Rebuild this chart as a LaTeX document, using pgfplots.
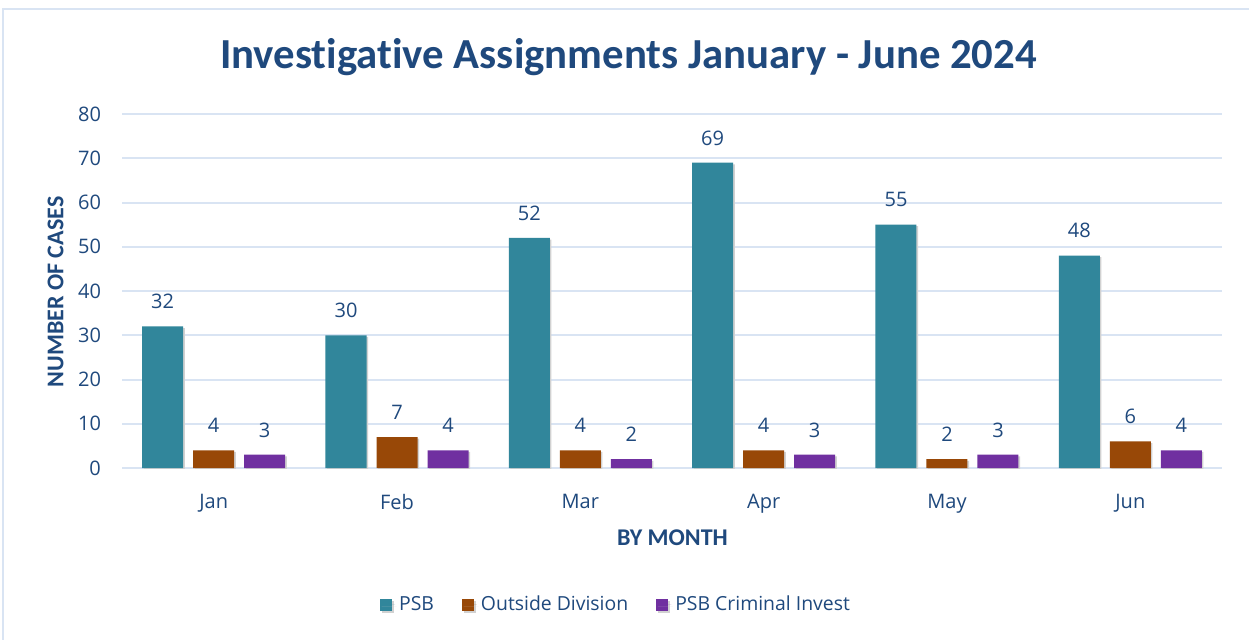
\documentclass[border=0pt]{standalone}
\usepackage{fontspec}
\setmainfont{Open Sans}
\newfontfamily\carlito[Ligatures=NoCommon]{Carlito}
\usepackage{pgfplots}
\pgfplotsset{compat=1.18}
\definecolor{txtblue}{RGB}{31,73,125}
\definecolor{gridblue}{RGB}{217,228,243}
\definecolor{psb}{RGB}{49,134,155}
\definecolor{outside}{RGB}{152,72,7}
\definecolor{crim}{RGB}{112,48,160}
\begin{document}
\begin{tikzpicture}
\useasboundingbox (0,0) rectangle (624.5pt,319.5pt);
\fill[white] (0,0) rectangle (624.5pt,319.5pt);
\draw[gridblue, line width=1pt] (1.5pt,-5pt) -- (1.5pt,315pt) -- (630pt,315pt);
\begin{axis}[
  at={(61pt,85.5pt)}, anchor=south west,
  scale only axis, width=550pt, height=177pt,
  xmin=-0.5, xmax=5.5, ymin=0, ymax=80,
  ytick={0,10,...,80},
  xtick=data,
  xticklabels={Jan,Feb,Mar,Apr,May,Jun},
  axis line style={draw=none},
  tick style={draw=none},
  ymajorgrids,
  major grid style={gridblue, line width=1pt},
  /pgf/number format/assume math mode=true,
  ticklabel style={font=\fontsize{10}{12}\selectfont, text=txtblue},
  yticklabel style={xshift=-7pt},
  xticklabel style={yshift=-5.5pt},
  ybar=5pt, bar width=20.5pt,
  nodes near coords,
  every node near coord/.append style={font=\fontsize{10}{12}\selectfont, text=txtblue, yshift=5.2pt},
  legend columns=3,
  legend style={at={(0.450,-0.387)}, anchor=center, draw=none, fill=none,
    font=\fontsize{9.7}{11}\selectfont, text=txtblue,
    /tikz/every even column/.append style={column sep=12pt}},
  legend image code/.code={\fill[#1] (0pt,-3pt) rectangle (6pt,3pt); \path (0pt,0pt) -- (7.5pt,0pt);},
]
\addplot[fill=psb, draw=none, preaction={fill=black!18, transform canvas={xshift=0.8pt,yshift=-0.8pt}}] coordinates {(0,32) (1,30) (2,52) (3,69) (4,55) (5,48)};
\addplot[fill=outside, draw=none, preaction={fill=black!18, transform canvas={xshift=0.8pt,yshift=-0.8pt}}] coordinates {(0,4) (1,7) (2,4) (3,4) (4,2) (5,6)};
\addplot[fill=crim, draw=none, preaction={fill=black!18, transform canvas={xshift=0.8pt,yshift=-0.8pt}}] coordinates {(0,3) (1,4) (2,2) (3,3) (4,3) (5,4)};
\legend{PSB, Outside Division, PSB Criminal Invest}
\end{axis}
\node[anchor=base, text=txtblue, font=\carlito\bfseries\fontsize{21.4}{25}\selectfont] at (314.25pt,285pt) {Investigative Assignments January - June 2024};
\node[anchor=base, rotate=90, text=txtblue, font=\carlito\bfseries\fontsize{12}{14}\selectfont] at (31.65pt,173.5pt) {NUMBER OF CASES};
\node[anchor=base, text=txtblue, font=\carlito\bfseries\fontsize{12}{14}\selectfont] at (336.25pt,47pt) {BY MONTH};
\end{tikzpicture}
\end{document}
